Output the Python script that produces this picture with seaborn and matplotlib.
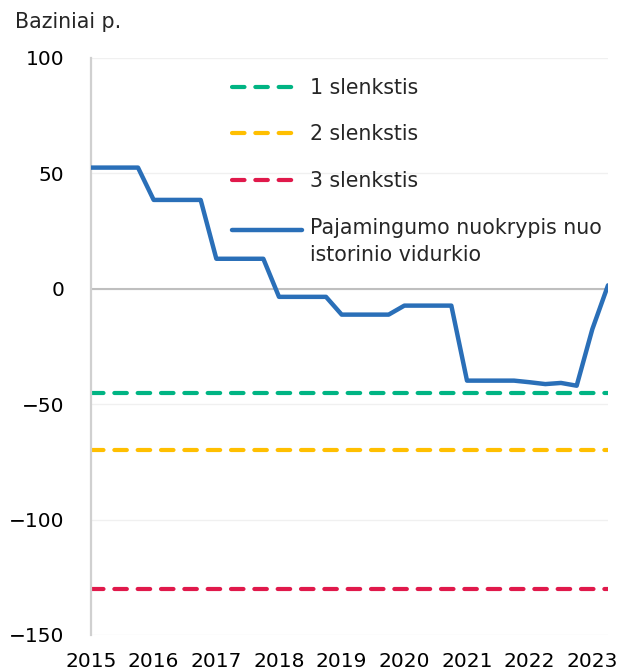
import seaborn as sns
import pandas as pd
import matplotlib.pyplot as plt
from matplotlib.lines import Line2D
from matplotlib.legend_handler import HandlerLine2D

sns.set_style('white')
plt.rcParams['font.family'] = ['DejaVu Sans']

# quarterly data, 2015 Q1 - 2023 Q2
years = [2015, 2016, 2017, 2018, 2019, 2020, 2021, 2022, 2023]
quarters = ['%d Q%d' % (y, q) for y in years for q in range(1, 5)][:34]
deviation = [52.5, 52.5, 52.5, 52.5,
             38.5, 38.5, 38.5, 38.5,
             13.0, 13.0, 13.0, 13.0,
             -3.5, -3.5, -3.5, -3.5,
             -11.2, -11.2, -11.2, -11.2,
             -7.3, -7.3, -7.3, -7.3,
             -39.8, -39.8, -39.8, -39.8,
             -40.5, -41.3, -40.8, -42.0,
             -17.5, 1.5]
thresholds = [-45, -70, -130]
threshold_labels = ['1 slenkstis', '2 slenkstis', '3 slenkstis']
threshold_colors = ['#00b483', '#ffbf00', '#e0194b']
line_label = 'Pajamingumo nuokrypis nuo\nistorinio vidurkio'
line_color = '#2a6fb8'

df = pd.DataFrame({'pos': range(len(quarters)), 'quarter': quarters, 'value': deviation})


class TopLine(HandlerLine2D):
    # put the handle next to the first line of a two-line label
    def create_artists(self, legend, orig_handle, xdescent, ydescent, width, height, fontsize, trans):
        arts = super().create_artists(legend, orig_handle, xdescent, ydescent,
                                       width, height, fontsize, trans)
        for a in arts:
            a.set_ydata(a.get_ydata() + 0.62 * fontsize)
        return arts


fs = 14.8
fig = plt.figure(figsize=(6.25, 6.71), dpi=100)
ax = fig.add_axes([0.1456, 0.0537, 0.8272, 0.8599])

ax.axhline(0, color='#bfbfbf', lw=1.5, zorder=1)
for val, col in zip(thresholds, threshold_colors):
    ax.axhline(val, color=col, lw=3, dashes=(3, 2.6), dash_capstyle='round', zorder=2)

sns.lineplot(data=df, x='pos', y='value', color=line_color, lw=3.2, ax=ax, zorder=3)

ax.set_xlim(0, len(quarters) - 1)
ax.set_ylim(-150, 100)
ax.set_yticks([100, 50, 0, -50, -100, -150])
ax.set_yticklabels(['100', '50', '0', '\u221250', '\u2212100', '\u2212150'])
ax.set_xticks(range(0, len(quarters), 4))
ax.set_xticklabels([str(y) for y in years])
ax.tick_params(axis='both', length=0, labelsize=14.5, colors='black')
ax.tick_params(axis='y', pad=19)
ax.tick_params(axis='x', pad=12)
ax.yaxis.grid(True, color='#f0f0f0', lw=1)
ax.xaxis.grid(False)
ax.set_xlabel('')
ax.set_ylabel('')
for s in ['top', 'right', 'bottom']:
    ax.spines[s].set_visible(False)
ax.spines['left'].set_color('#d0d0d0')
ax.spines['left'].set_linewidth(1.6)

handles = [Line2D([0], [0], color=c, lw=3, dashes=(3, 2.6), dash_capstyle='round')
           for c in threshold_colors]
main_handle = Line2D([0], [0], color=line_color, lw=3.2, solid_capstyle='round')
handles.append(main_handle)
leg = ax.legend(handles, threshold_labels + [line_label], loc='upper left',
                bbox_to_anchor=(0.257, 0.98), borderaxespad=0, frameon=False, fontsize=fs,
                handlelength=3.4, handletextpad=0.4, labelspacing=1.3,
                handler_map={main_handle: TopLine()})
for t in leg.get_texts():
    t.set_linespacing(1.45)

fig.text(15 / 625, 1 - 22 / 671, 'Baziniai p.', fontsize=fs, va='center', ha='left')

fig.savefig('out.png', dpi=100)
